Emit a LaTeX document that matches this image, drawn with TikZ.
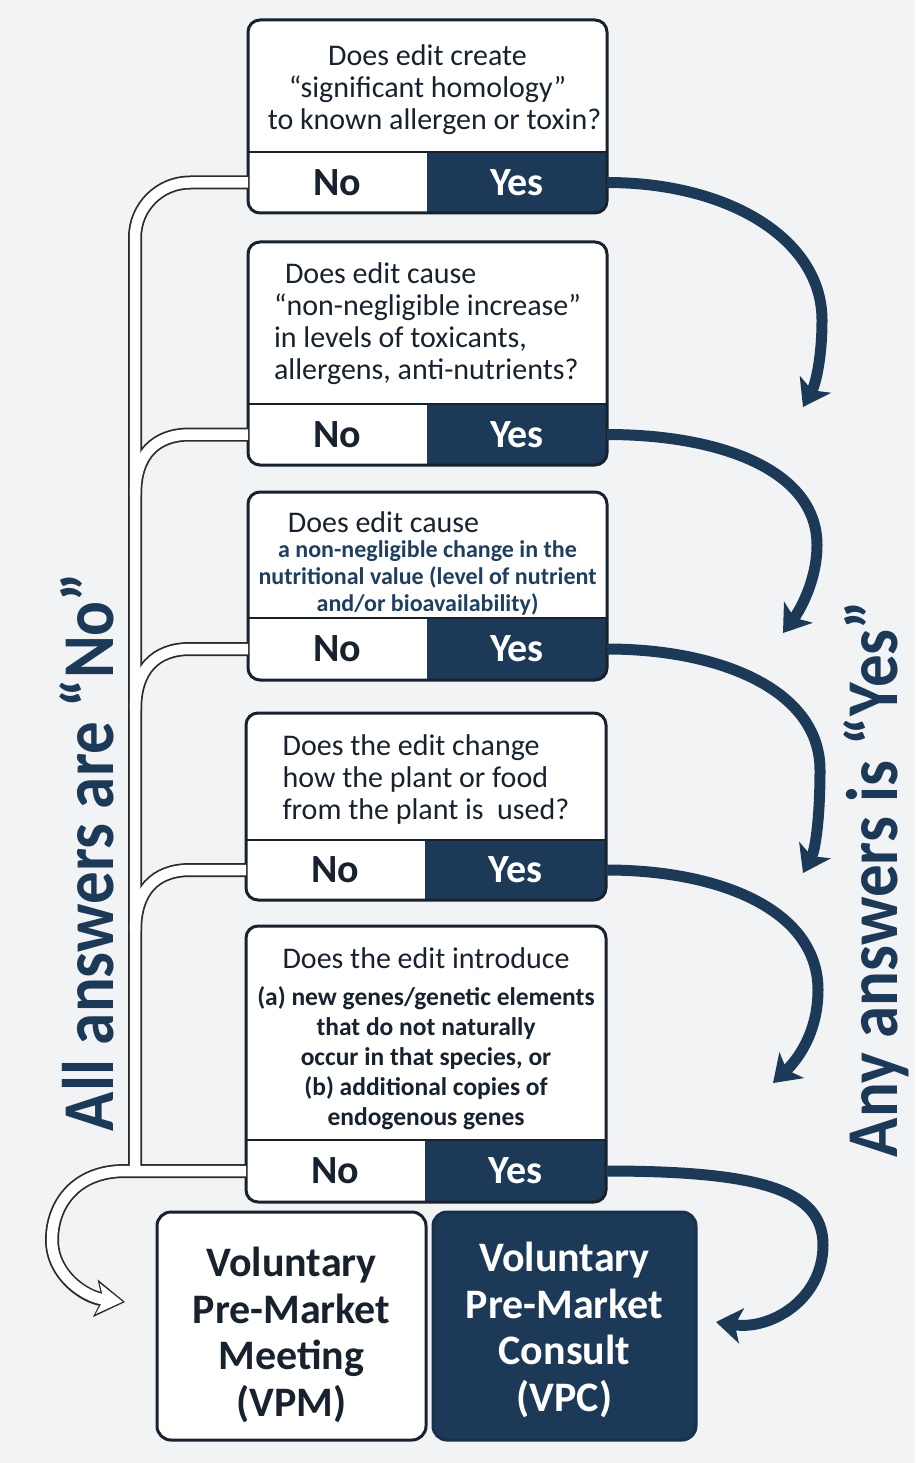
\documentclass[tikz,border=0pt]{standalone}
\usepackage{fontspec}
\usepackage{graphicx}
\setmainfont{Carlito}
\usetikzlibrary{arrows.meta}
\definecolor{navy}{HTML}{1C3A57}
\definecolor{navytext}{HTML}{1E3F5F}
\definecolor{ink}{HTML}{18222E}
\definecolor{bgc}{HTML}{F2F3F5}
\definecolor{pipeedge}{HTML}{2B2B2B}
\pgfdeclarelayer{background}
\pgfsetlayers{background,main}

\newcommand\qfont{\fontsize{30}{32}\selectfont}
\newcommand\qbold{\fontsize{24}{27}\selectfont\bfseries}
\newcommand\qboldb{\fontsize{25.5}{30}\selectfont\bfseries}
\newcommand\ansfont{\fontsize{40}{40}\selectfont\bfseries}
\newcommand\outfont{\fontsize{42}{46.5}\selectfont\bfseries}
\newcommand\sidefont{\fontsize{73}{73}\selectfont\bfseries}

\tikzset{
  region/.style={rectangle, inner sep=0pt, outer sep=0pt},
  qtext/.style={rectangle, inner sep=0pt, text=ink, font=\qfont},
  ans/.style={region, font=\ansfont},
  noans/.style={ans, text=ink},
  yesans/.style={ans, text=white},
  frame/.style={draw=ink, line width=3pt, rounded corners=12pt},
  divider/.style={draw=ink, line width=2.5pt},
  yesarrow/.style={draw=navy, line width=11pt, -{Stealth[length=26pt,width=36pt,inset=7pt,line width=0pt]}},
  pipeA/.style={draw=pipeedge, line width=14pt},
  pipeB/.style={draw=white, line width=10.5pt},
  headA/.style={-{Stealth[length=30pt,width=38pt,inset=7pt,line width=0pt]}},
  headB/.style={-{Stealth[length=25pt,width=31pt,inset=6pt,line width=0pt]}, shorten >=2.5pt},
  sidelabel/.style={rotate=90, anchor=base, inner sep=0pt, text=navy},
  outbox/.style={region, minimum height=228pt, font=\outfont, align=center, line width=3pt, rounded corners=14pt},
}

\newcommand\pipenet[1]{%
  \draw[pipe#1, rounded corners=55pt] (no1.west) -- (135,182.5) -- (135,1171);
  \draw[pipe#1] (no2.west) -- (190,434.5) .. controls (155,434.5) and (135,455) .. (135,495);
  \draw[pipe#1] (no3.west) -- (190,649) .. controls (155,649) and (135,670) .. (135,710);
  \draw[pipe#1] (no4.west) -- (190,870) .. controls (155,870) and (135,891) .. (135,931);
  \draw[pipe#1, head#1] (no5.west) -- (125,1171) .. controls (75,1171) and (52,1205) .. (52,1240) .. controls (52,1275) and (85,1297) .. (vpmin);
}

\begin{document}
\begin{tikzpicture}[x=1pt, y=-1pt]
\useasboundingbox (0,0) rectangle (915,1463);

% ---- question regions
\node[region, minimum width=359pt, minimum height=132pt] (q1) at (427.5,86) {};
\node[noans, minimum width=179pt, minimum height=61pt] (no1) at (337.5,182.5) {No};
\node[yesans, minimum width=180pt, minimum height=61pt] (yes1) at (517,182.5) {Yes};

\node[region, minimum width=359pt, minimum height=162pt] (q2) at (427.5,323) {};
\node[noans, minimum width=179pt, minimum height=61pt] (no2) at (337.5,434.5) {No};
\node[yesans, minimum width=180pt, minimum height=61pt] (yes2) at (517,434.5) {Yes};

\node[region, minimum width=359pt, minimum height=126pt] (q3) at (427.5,555) {};
\node[noans, minimum width=179pt, minimum height=62pt] (no3) at (337.5,649) {No};
\node[yesans, minimum width=180pt, minimum height=62pt] (yes3) at (517,649) {Yes};

\node[region, minimum width=360pt, minimum height=127pt] (q4) at (426,776.5) {};
\node[noans, minimum width=179pt, minimum height=60pt] (no4) at (335.5,870) {No};
\node[yesans, minimum width=181pt, minimum height=60pt] (yes4) at (515.5,870) {Yes};

\node[region, minimum width=360pt, minimum height=214pt] (q5) at (426,1033) {};
\node[noans, minimum width=179pt, minimum height=62pt] (no5) at (335.5,1171) {No};
\node[yesans, minimum width=181pt, minimum height=62pt] (yes5) at (515.5,1171) {Yes};

% ---- question texts
\node[qtext, align=center, yshift=-4pt] (q1t) at (q1.center)
  {Does edit create\\“significant homology”\\\hspace*{14pt}to known allergen or toxin?};
\node[qtext, align=left, yshift=-1pt] (q2t) at (q2.center)
  {\hspace*{11pt}Does edit cause\\“non-negligible increase”\\in levels of toxicants,\\allergens, anti-nutrients?};
\node[qtext, align=center, yshift=-8pt] (q3t) at (q3.center)
  {Does edit cause\hspace*{88pt}\\[-7pt]
   {\qbold\color{navytext}a non-negligible change in the}\\[-5pt]
   {\qbold\color{navytext}nutritional value (level of nutrient}\\[-5pt]
   {\qbold\color{navytext}and/or bioavailability)}};
\node[qtext, align=left, yshift=-3pt] (q4t) at (q4.center)
  {Does the edit change\\how the plant or food\\from the plant is \ used?};
\node[qtext, align=center, yshift=-6pt] (q5t) at (q5.center)
  {Does the edit introduce\\[5pt]
   {\qboldb (a) new genes/genetic elements}\\[-2pt]
   {\qboldb that do not naturally}\\[-2pt]
   {\qboldb occur in that species, or}\\[-2pt]
   {\qboldb (b) additional copies of}\\[-2pt]
   {\qboldb endogenous genes}};

% ---- outcomes
\node[outbox, minimum width=269pt, fill=white, draw=ink] (vpm) at (291.5,1326) {};
\node[outbox, minimum width=263pt, fill=navy, draw=navy!85!black] (vpc) at (564.5,1326) {};
\node[qtext, font=\outfont, text=ink, align=center, yshift=-9pt] (vpmt) at (vpm.center)
  {Voluntary\\Pre-Market\\Meeting\\(VPM)};
\node[qtext, font=\outfont, text=white, align=center, yshift=-4pt] (vpct) at (vpc.center)
  {Voluntary\\Pre-Market\\Consult\\(VPC)};

% ---- side labels
\node[sidelabel] (allno) at (113,852) {\scalebox{0.89}[1]{\sidefont All answers are “No”}};
\node[sidelabel] (anyyes) at (897,879) {\scalebox{0.89}[1]{\sidefont Any answers is “Yes”}};

% ---- box backgrounds
\begin{pgfonlayer}{background}
  \fill[bgc] (0,0) rectangle (915,1463);
  \foreach \i in {1,...,5} {
    \fill[white, rounded corners=12pt] (q\i.north west) rectangle (yes\i.south east);
    \begin{scope}
      \clip[rounded corners=12pt] (q\i.north west) rectangle (yes\i.south east);
      \fill[navy] (yes\i.north west) rectangle (yes\i.south east);
    \end{scope}
  }
\end{pgfonlayer}

\foreach \i in {1,...,5} {
  \draw[divider] (q\i.south west) -- (q\i.south east);
  \draw[frame] (q\i.north west) rectangle (yes\i.south east);
}

% ---- free ends of connectors
\coordinate (t1) at (803,407);
\coordinate (t2) at (783,633);
\coordinate (t3) at (803,873);
\coordinate (t4) at (773,1083);
\coordinate (vpcin) at (716,1322);
\coordinate (vpmin) at (125,1302);

% ---- "Yes" connectors
\draw[yesarrow] (yes1.east) .. controls (730,182.5) and (822,240) .. (822,320) .. controls (822,360) and (815,385) .. (t1);
\draw[yesarrow] (yes2.east) .. controls (720,434.5) and (817,470) .. (817,545) .. controls (817,580) and (800,610) .. (t2);
\draw[yesarrow] (yes3.east) .. controls (720,649) and (820,690) .. (820,770) .. controls (820,820) and (815,850) .. (t3);
\draw[yesarrow] (yes4.east) .. controls (720,870) and (818,910) .. (818,990) .. controls (818,1035) and (795,1062) .. (t4);
\draw[yesarrow] (yes5.east) .. controls (760,1171) and (823,1190) .. (823,1245) .. controls (823,1300) and (770,1330) .. (vpcin);

% ---- "No" pipe (outline pass, then inner pass)
\pipenet{A}
\pipenet{B}

\end{tikzpicture}
\end{document}
